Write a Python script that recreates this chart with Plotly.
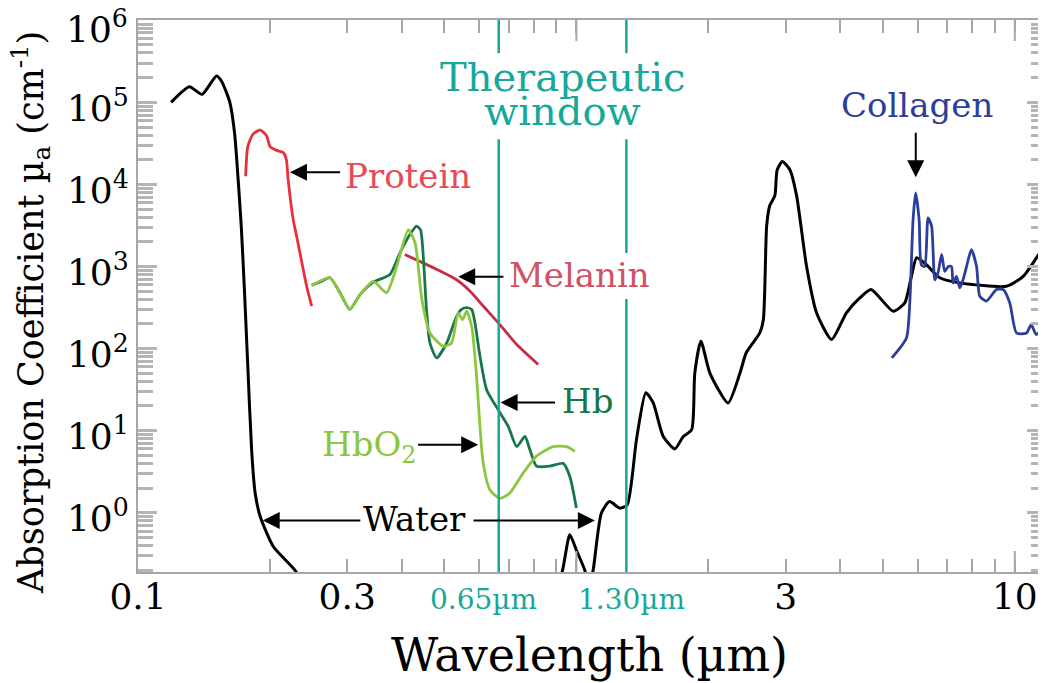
import numpy as np
import plotly.graph_objects as go

# ---------------- data (wavelength in µm, absorption coefficient in cm^-1) -------------
water_wl = [0.119, 0.131, 0.140, 0.151, 0.155, 0.162, 0.166, 0.169, 0.172, 0.175, 0.178,
            0.1816, 0.185, 0.190, 0.2035, 0.228, 0.245, 0.27, 0.35, 0.5, 0.7, 0.85, 0.93, 0.966,
            1.0, 1.045, 1.068, 1.092, 1.14, 1.19, 1.256, 1.306, 1.371, 1.44, 1.497, 1.578,
            1.677, 1.753, 1.832, 1.862, 1.923, 2.017, 2.218, 2.36, 2.44, 2.62, 2.67, 2.716,
            2.76, 2.836, 2.87, 2.95, 3.07, 3.18, 3.35, 3.53, 3.82, 4.13, 4.43, 4.7, 5.28,
            5.61, 5.81, 5.97, 6.29, 6.74, 7.49, 9.57, 10.45, 11.78]
water_mu = [1.0e5, 1.55e5, 1.25e5, 2.1e5, 1.82e5, 1.0e5, 4.3e4, 1.26e4, 3.1e3, 480, 61,
            5.9, 1.74, 0.90, 0.388, 0.20, 0.11, 0.05, 0.005, 0.0005, 0.006, 0.04, 0.2, 0.54,
            0.35, 0.2, 0.12, 0.2, 0.99, 1.37, 1.14, 1.25, 7.8, 29, 21.8, 8.5,
            6.0, 8.5, 10.3, 50, 123, 50, 21.8, 50, 89, 155, 226, 3.1e3,
            5.5e3, 7.3e3, 1.5e4, 1.9e4, 1.5e4, 7.2e3, 1.0e3, 273, 129, 273, 414, 525, 285,
            360, 760, 1280, 1050, 730, 632, 575, 760, 1950]

protein_wl = [0.176, 0.178, 0.183, 0.190, 0.1966, 0.200, 0.207, 0.2145, 0.218, 0.220,
              0.226, 0.230, 0.2425, 0.249]
protein_mu = [1.26e4, 2.9e4, 4.1e4, 4.6e4, 3.9e4, 2.9e4, 2.6e4, 2.44e4, 2.0e4, 1.15e4,
              3.7e3, 2.35e3, 575, 330]

melanin_wl = [0.406, 0.448, 0.489, 0.533, 0.572, 0.613, 0.669, 0.731, 0.818]
melanin_mu = [1400, 1100, 880, 690, 500, 330, 196, 112, 64]

hb_wl = [0.249, 0.2625, 0.274, 0.289, 0.304, 0.321, 0.344, 0.3755, 0.396, 0.417, 0.432,
         0.441, 0.448, 0.455, 0.4634, 0.480, 0.506, 0.533, 0.547, 0.562, 0.577, 0.587,
         0.6025, 0.624, 0.663, 0.699, 0.731, 0.763, 0.783, 0.811, 0.870, 0.933, 0.966, 1.0]
hb_mu = [590, 660, 730, 480, 300, 455, 645, 800, 1470, 2450, 3100,
         2800, 1200, 300, 117, 77, 117, 247, 300, 315, 300, 205,
         81, 31.6, 18, 11.3, 6.4, 8.5, 5.9, 3.7, 3.7, 4.0, 2.77, 1.14]

hbo2_wl = [0.249, 0.2625, 0.274, 0.289, 0.304, 0.321, 0.344, 0.369, 0.389, 0.4135, 0.4285,
           0.444, 0.4634, 0.497, 0.519, 0.5375, 0.55, 0.562, 0.577, 0.592, 0.6025, 0.613,
           0.635, 0.669, 0.705, 0.756, 0.811, 0.885, 0.950, 0.992]
hbo2_mu = [590, 680, 730, 480, 300, 455, 660, 480, 1000, 2800, 1950,
           400, 155, 107, 117, 272, 225, 285, 187, 46, 11.3, 4.0,
           1.9, 1.5, 1.74, 3.05, 4.9, 6.4, 6.4, 5.6]

collagen_wl = [5.24, 5.66, 5.76, 5.86, 5.94, 6.05, 6.12, 6.23, 6.34, 6.46, 6.57, 6.68, 6.81,
               6.92, 7.05, 7.17, 7.23, 7.36, 7.49, 7.62, 7.76, 7.96, 8.18, 8.32, 8.62, 9.08,
               9.41, 9.74, 10.09, 10.63, 10.9, 11.2, 11.78]
collagen_mu = [77, 135, 360, 3700, 7900, 3700, 1050, 1000, 3900, 3100, 690, 840, 1400,
               875, 1000, 1000, 630, 760, 550, 690, 1000, 1600, 1000, 435, 380, 525,
               525, 360, 155, 155, 196, 148, 215]

window_wl = [0.665, 1.30]
window_labels = ["0.65µm", "1.30µm"]

x_label_vals = [0.1, 0.3, 3, 10]
x_label_text = ["0.1", "0.3", "3", "10"]
y_major_vals = [1, 10, 100, 1e3, 1e4, 1e5, 1e6]
y_major_text = ["10<sup>%d</sup>" % i for i in range(7)]

# ---------------- styles ----------------
FONT = "DejaVu Serif"
TEAL = "#17a79b"
C_WATER = "#000000"
C_PROT = "#e8303a"
C_MEL = "#c62d42"
C_HB = "#17774a"
C_HBO2 = "#8cc63f"
C_COL = "#2b3f9a"
AX = "#a6a6a6"

fig = go.Figure()

def add_curve(x, y, color, width=2.8):
    fig.add_trace(go.Scatter(x=x, y=y, mode="lines", hoverinfo="skip",
                             line=dict(color=color, width=width, shape="spline", smoothing=0.6)))

add_curve(water_wl, water_mu, C_WATER, 3)
add_curve(protein_wl, protein_mu, C_PROT)
add_curve(melanin_wl, melanin_mu, C_MEL)
add_curve(hb_wl, hb_mu, C_HB)
add_curve(hbo2_wl, hbo2_mu, C_HBO2)
add_curve(collagen_wl, collagen_mu, C_COL)

# x ticks: all log positions, labels only on some
x_all = []
for dec in [0.1, 1]:
    for k in range(1, 10):
        x_all.append(round(k * dec, 3))
x_all.append(10)
x_text = [x_label_text[x_label_vals.index(v)] if v in x_label_vals else "" for v in x_all]

y_minor = []
for p in range(-1, 6):
    for k in range(2, 10):
        y_minor.append(k * 10 ** p)

# the top label (10^6) sits at the upper edge; it is drawn separately, a bit lower
y_tick_text = y_major_text[:-1] + [""]

fig.update_xaxes(type="log", range=[-1, np.log10(11.78)], showgrid=False, zeroline=False,
                 automargin=False, ticklabelstandoff=-8,
                 showline=True, linecolor=AX, linewidth=2, mirror="ticks",
                 ticks="inside", tickvals=x_all, ticktext=x_text, ticklen=13, tickwidth=2,
                 tickcolor=AX, tickfont=dict(family=FONT, size=36, color="black"))
fig.update_yaxes(type="log", range=[np.log10(0.19), 6.003], showgrid=False, zeroline=False,
                 automargin=False, ticklabelshift=6,
                 showline=True, linecolor=AX, linewidth=2, mirror="ticks",
                 ticks="inside", tickvals=y_major_vals, ticktext=y_tick_text, ticklen=19,
                 tickwidth=2.5, tickcolor="#b5b5b5",
                 tickfont=dict(family=FONT, size=36, color="black"),
                 minor=dict(ticks="inside", tickvals=y_minor, ticklen=15, tickwidth=2.5,
                            tickcolor="#b5b5b5", showgrid=False))

shapes = []
# longer decade ticks on x (bottom & top)
for v in [1, 10]:
    shapes.append(dict(type="line", xref="x", yref="paper", x0=v, x1=v, y0=0, y1=21,
                       ysizemode="pixel", yanchor=0, line=dict(color=AX, width=2)))
    shapes.append(dict(type="line", xref="x", yref="paper", x0=v, x1=v, y0=-21, y1=0,
                       ysizemode="pixel", yanchor=1, line=dict(color=AX, width=2)))
# therapeutic window lines, with gaps for text
gaps = {0: [(0, 0.784), (0.940, 1)], 1: [(0, 0.4946), (0.578, 0.784), (0.940, 1)]}
for i, wl in enumerate(window_wl):
    for (a, b) in gaps[i]:
        shapes.append(dict(type="line", xref="x", yref="paper", x0=wl, x1=wl, y0=a, y1=b,
                           line=dict(color=TEAL, width=2.5)))
fig.update_layout(shapes=shapes)

L = np.log10
ann = []
def arrow(tip, tail):
    ann.append(dict(x=L(tip[0]), y=L(tip[1]), ax=L(tail[0]), ay=L(tail[1]),
                    xref="x", yref="y", axref="x", ayref="y", text="", showarrow=True,
                    arrowhead=2, arrowsize=1.7, arrowwidth=2, arrowcolor="black"))

def label(text, x, y, color, size=34, xanchor="left", yanchor="middle"):
    ann.append(dict(x=x, y=y, xref="paper", yref="paper", text=text, showarrow=False,
                    xanchor=xanchor, yanchor=yanchor,
                    font=dict(family=FONT, size=size, color=color)))

arrow((0.2221, 1.41e4), (0.2914, 1.41e4))
arrow((0.5375, 748), (0.687, 748))
arrow((0.6716, 22.1), (0.901, 22.1))
arrow((0.597, 6.75), (0.432, 6.75))
arrow((0.1925, 0.805), (0.324, 0.805))
arrow((1.102, 0.805), (0.578, 0.805))
arrow((5.944, 1.22e4), (5.944, 4.43e4))

label("Protein", 0.2258, 0.7174, "#e84a55")
label("Melanin", 0.4064, 0.538, "#d05265")
label("Hb", 0.4648, 0.3098, C_HB)
label("HbO<sub>2</sub>", 0.2004, 0.228, C_HBO2)
label("Water", 0.305, 0.096, "black", xanchor="center")
label("Collagen", 0.858, 0.846, C_COL, xanchor="center")
label("Therapeutic", 0.468, 0.897, TEAL, size=40, xanchor="center")
label("window", 0.467, 0.835, TEAL, size=40, xanchor="center")
label(window_labels[0], 0.38, -0.0507, TEAL, size=28, xanchor="center")
label(window_labels[1], 0.544, -0.0507, TEAL, size=28, xanchor="center")
label("Wavelength (µm)", 0.4967, -0.150, "black", size=46, xanchor="center")
ann.append(dict(x=0, y=L(y_major_vals[-1]), xref="paper", yref="y", showarrow=False,
                text=y_major_text[-1], xanchor="right", yanchor="middle",
                xshift=-8, yshift=-7,
                font=dict(family=FONT, size=36, color="black")))
ann.append(dict(x=-0.119, y=0.471, xref="paper", yref="paper", showarrow=False,
                text="Absorption Coefficient µ<sub>a</sub> (cm<sup>-1</sup>)", textangle=-90,
                xanchor="center", yanchor="middle",
                font=dict(family=FONT, size=35, color="black")))

# the page body adds an 8px offset, so the figure is 8px smaller than the window
fig.update_layout(annotations=ann, width=1038, height=675,
                  margin=dict(l=130, r=0, t=12, b=111), showlegend=False,
                  plot_bgcolor="white", paper_bgcolor="white")

fig.write_html("out.html")
